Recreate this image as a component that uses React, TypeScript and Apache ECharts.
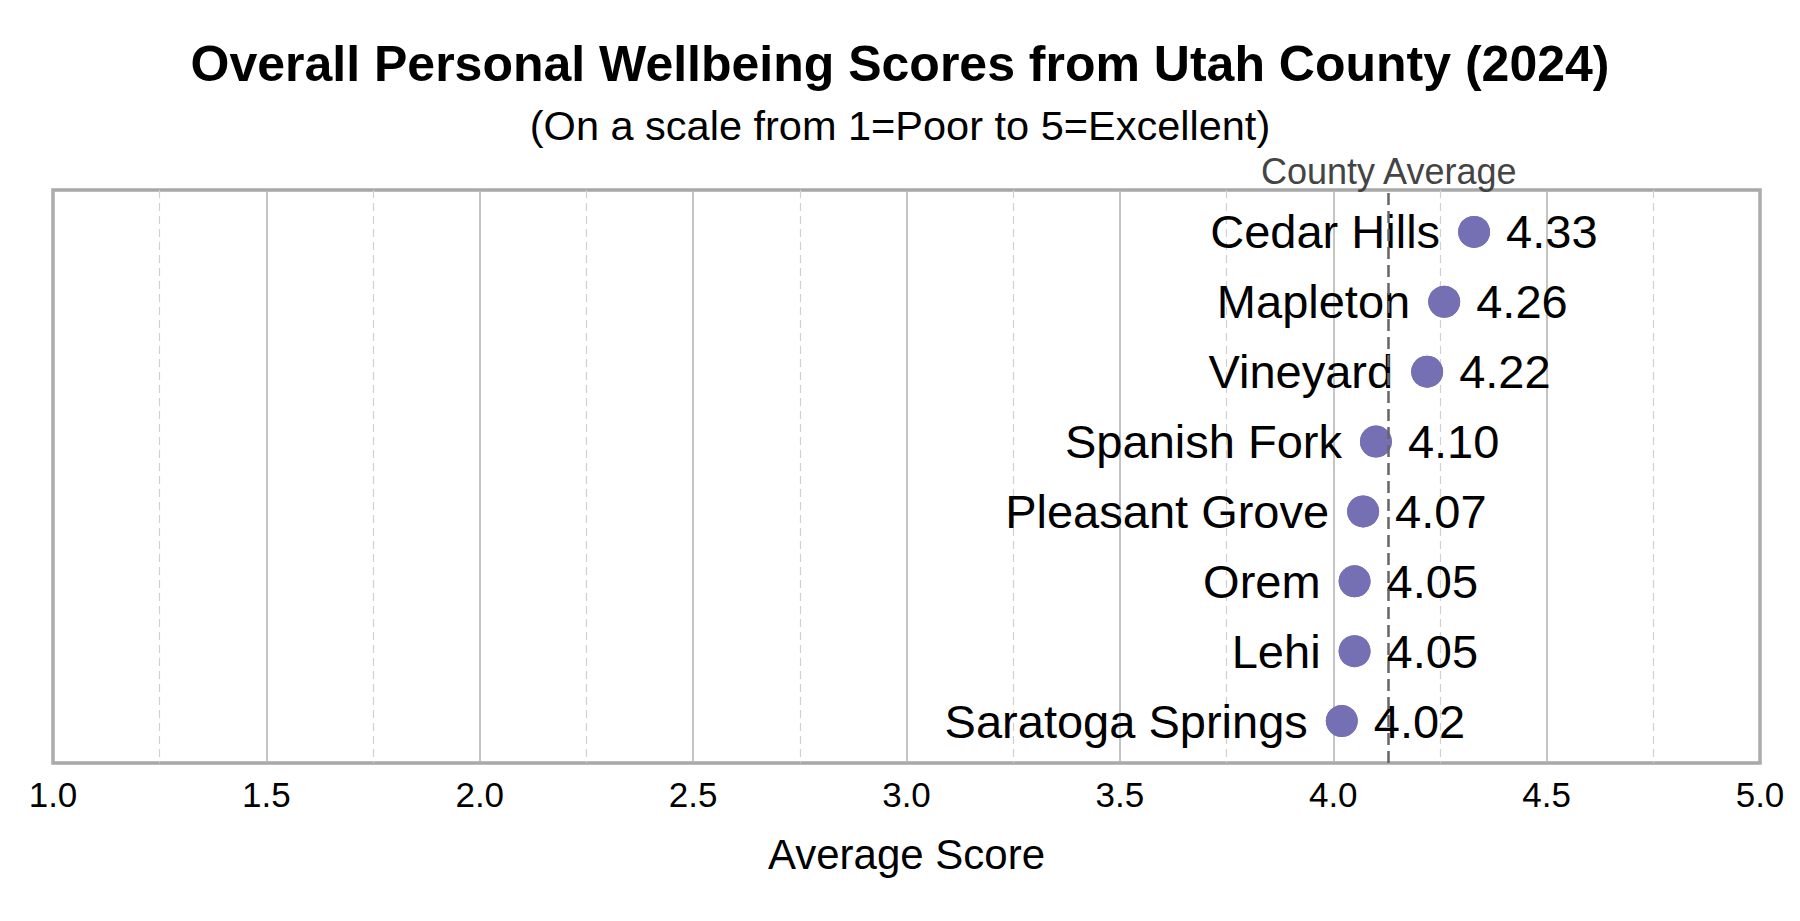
import { useEffect, useRef } from 'react'
import * as echarts from 'echarts'

const places = [
  'Cedar Hills',
  'Mapleton',
  'Vineyard',
  'Spanish Fork',
  'Pleasant Grove',
  'Orem',
  'Lehi',
  'Saratoga Springs',
]
const scores = [4.33, 4.26, 4.22, 4.1, 4.07, 4.05, 4.05, 4.02]
const countyAverage = 4.13
const xTicks = [1, 1.5, 2, 2.5, 3, 3.5, 4, 4.5, 5]

const FONT = '"Liberation Sans", Arial, sans-serif'
const DOT = '#7570b3'

export default function App() {
  const chartRef = useRef<HTMLDivElement | null>(null)

  useEffect(() => {
    document.body.style.margin = '0'
    if (!chartRef.current) {
      return undefined
    }
    const chart = echarts.init(chartRef.current, undefined, { renderer: 'svg' })

    const points = places.map((name, index) => ({ name, value: [scores[index], index] }))

    chart.setOption({
      animation: false,
      backgroundColor: '#ffffff',
      textStyle: { fontFamily: FONT },
      title: [
        {
          text: 'Overall Personal Wellbeing Scores from Utah County (2024)',
          left: 'center',
          top: 34,
          textStyle: { fontFamily: FONT, fontSize: 50, fontWeight: 'bold', color: '#000' },
        },
        {
          text: '(On a scale from 1=Poor to 5=Excellent)',
          left: 'center',
          top: 99,
          textStyle: { fontFamily: FONT, fontSize: 41.5, fontWeight: 'normal', color: '#000' },
        },
      ],
      grid: {
        left: 53,
        right: 40,
        top: 190,
        bottom: 158,
        show: true,
        borderColor: '#a8a8a8',
        borderWidth: 3.5,
        backgroundColor: 'transparent',
      },
      xAxis: {
        type: 'value',
        min: 1,
        max: 5,
        interval: 0.5,
        name: 'Average Score',
        nameLocation: 'middle',
        nameGap: 70,
        nameTextStyle: { fontFamily: FONT, fontSize: 42, color: '#000' },
        axisLine: { show: false, onZero: false },
        axisTick: { show: false },
        axisLabel: {
          margin: 14,
          fontFamily: FONT,
          fontSize: 35,
          color: '#000',
          formatter: (v: number) => (xTicks.includes(v) ? v.toFixed(1) : ''),
        },
        splitLine: { show: true, lineStyle: { color: '#b0b0b0', width: 1.5 } },
        minorTick: { show: false, splitNumber: 2 },
        minorSplitLine: { show: true, lineStyle: { color: '#d0d0d0', width: 1.2, type: [8, 5] } },
      },
      yAxis: {
        type: 'value',
        min: -0.6,
        max: 7.6,
        inverse: true,
        show: false,
        splitLine: { show: false },
      },
      series: [
        {
          type: 'scatter',
          data: [],
          z: 1,
          silent: true,
          markLine: {
            silent: true,
            symbol: ['none', 'none'],
            lineStyle: { color: '#666666', width: 2.5, type: [12, 6], opacity: 1 },
            label: {
              show: true,
              position: 'end',
              distance: 1,
              formatter: 'County Average',
              fontFamily: FONT,
              fontSize: 36,
              color: '#444444',
            },
            data: [
              [
                { coord: [countyAverage, 7.6] },
                { coord: [countyAverage, -0.6] },
              ],
            ],
          },
        },
        {
          type: 'scatter',
          symbolSize: 32,
          itemStyle: { color: DOT, opacity: 1 },
          data: points,
          z: 3,
          label: {
            show: true,
            position: 'left',
            distance: 18,
            formatter: (p: { name: string }) => p.name,
            fontFamily: FONT,
            fontSize: 47,
            color: '#000',
            opacity: 1,
          },
        },
        {
          type: 'scatter',
          symbolSize: 32,
          itemStyle: { color: DOT, opacity: 1 },
          data: points,
          z: 3,
          label: {
            show: true,
            position: 'right',
            distance: 16,
            formatter: (p: { value: number[] }) => p.value[0].toFixed(2),
            fontFamily: FONT,
            fontSize: 47,
            color: '#000',
            opacity: 1,
          },
        },
      ],
    })

    return () => {
      chart.dispose()
    }
  }, [])

  return <div ref={chartRef} style={{ width: 1800, height: 921 }} />
}
